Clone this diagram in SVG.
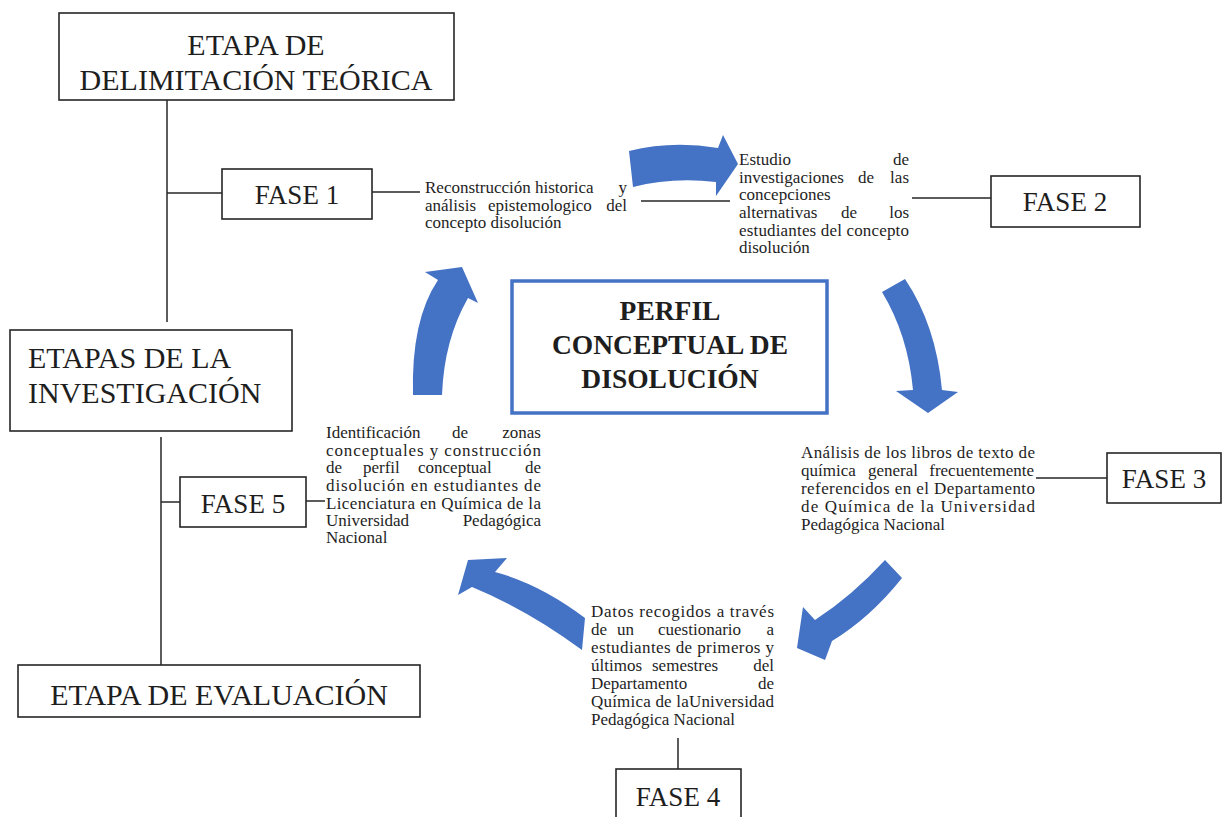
<svg xmlns="http://www.w3.org/2000/svg" width="1223" height="817" viewBox="0 0 1223 817">
<style>
.box{fill:#fff;stroke:#262626;stroke-width:1.6}
.big{font-family:"Liberation Serif","Times New Roman",serif;font-size:30px;fill:#1e1e1e}
.fase{font-family:"Liberation Serif","Times New Roman",serif;font-size:27px;fill:#1e1e1e;text-anchor:middle}
.t{font-family:"Liberation Serif","Times New Roman",serif;font-size:17px;fill:#1e1e1e}
.e{text-anchor:end}
.m{text-anchor:middle}
.title{font-family:"Liberation Serif","Times New Roman",serif;font-size:27.5px;font-weight:bold;fill:#1e1e1e;text-anchor:middle}
.ln{stroke:#262626;stroke-width:1.5;fill:none}
.arr{fill:#4472C4}
</style>
<rect width="1223" height="817" fill="#fff"/>

<g id="connectors">
<line class="ln" x1="167" y1="100" x2="167" y2="322"/>
<line class="ln" x1="167" y1="193" x2="222" y2="193"/>
<line class="ln" x1="372" y1="192" x2="420" y2="192"/>
<line class="ln" x1="641" y1="201" x2="730" y2="201"/>
<line class="ln" x1="912" y1="198" x2="991" y2="198"/>
<line class="ln" x1="1036" y1="478" x2="1107" y2="478"/>
<line class="ln" x1="678" y1="738" x2="678" y2="769"/>
<line class="ln" x1="161" y1="437" x2="161" y2="665"/>
<line class="ln" x1="161" y1="502" x2="180" y2="502"/>
<line class="ln" x1="306" y1="501" x2="325" y2="501"/>
<path class="arr" d="M629,151 Q672,140 718,148 L723,135 L738,164 L716,196 L716,182 Q672,177 633,187 Z"/>
<path class="arr" d="M882,292 L905,279 Q936,325 942,390 L958,392 L928,413 L896,391 L913,390 Q908,335 882,292 Z"/>
<path class="arr" d="M885,560 L902,578 Q870,618 832,641 L825,660 L797,648 L803,607 L815,620 Q852,596 885,560 Z"/>
<path class="arr" d="M585,618 Q540,584 495,572 L507,558 L468,560 L458,595 L472,587 Q528,610 582,650 Z"/>
<path class="arr" d="M413,395 Q411,320 438,280 L425,272 L462,267 L478,303 L468,298 Q444,340 442,395 Z"/>
</g>

<g id="etapa-delimitacion">
<rect class="box" x="59" y="13" width="395" height="87"/>
<text class="big m" x="256" y="55">ETAPA DE</text>
<text class="big m" x="256" y="90">DELIMITACIÓN TEÓRICA</text>
</g>

<g id="etapas-investigacion">
<rect class="box" x="10" y="330" width="282" height="101"/>
<text class="big" x="28" y="368">ETAPAS DE LA</text>
<text class="big" x="28" y="403">INVESTIGACIÓN</text>
</g>

<g id="etapa-evaluacion">
<rect class="box" x="18" y="665" width="402" height="52"/>
<text class="big m" x="219" y="705">ETAPA DE EVALUACIÓN</text>
</g>

<g id="perfil">
<rect x="512" y="281" width="315" height="132" fill="#fff" stroke="#4472C4" stroke-width="3.5"/>
<text class="title" x="670" y="320">PERFIL</text>
<text class="title" x="670" y="354">CONCEPTUAL DE</text>
<text class="title" x="670" y="388">DISOLUCIÓN</text>
</g>

<g id="fase1">
<rect class="box" x="222" y="169" width="150" height="50"/>
<text class="fase" x="297" y="204">FASE 1</text>
</g>
<g id="fase2">
<rect class="box" x="991" y="176" width="149" height="51"/>
<text class="fase" x="1065" y="211">FASE 2</text>
</g>
<g id="fase3">
<rect class="box" x="1107" y="453" width="114" height="50"/>
<text class="fase" x="1164" y="488">FASE 3</text>
</g>
<g id="fase4">
<rect class="box" x="616" y="769" width="125" height="60"/>
<text class="fase" x="678" y="806">FASE 4</text>
</g>
<g id="fase5">
<rect class="box" x="180" y="477" width="126" height="50"/>
<text class="fase" x="243" y="513">FASE 5</text>
</g>

<g id="texto1">
<text class="t" x="425" y="193">Reconstrucción historica</text>
<text class="t e" x="627" y="193">y</text>
<text class="t" x="425" y="211">análisis</text>
<text class="t" x="488" y="211">epistemologico</text>
<text class="t e" x="627" y="211">del</text>
<text class="t" x="425" y="228">concepto disolución</text>
</g>

<g id="texto2">
<text class="t" x="739" y="165">Estudio</text>
<text class="t e" x="909" y="165">de</text>
<text class="t" x="739" y="183">investigaciones</text>
<text class="t" x="858" y="183">de</text>
<text class="t e" x="909" y="183">las</text>
<text class="t" x="739" y="200">concepciones</text>
<text class="t" x="739" y="218">alternativas</text>
<text class="t m" x="849" y="218">de</text>
<text class="t e" x="909" y="218">los</text>
<text class="t" x="739" y="236" textLength="170" lengthAdjust="spacing">estudiantes del concepto</text>
<text class="t" x="739" y="253">disolución</text>
</g>

<g id="texto3">
<text class="t" x="801" y="458" textLength="234" lengthAdjust="spacing">Análisis de los libros de texto de</text>
<text class="t" x="801" y="476">química</text>
<text class="t" x="868" y="476">general</text>
<text class="t e" x="1034" y="476">frecuentemente</text>
<text class="t" x="801" y="494" textLength="234" lengthAdjust="spacing">referencidos en el Departamento</text>
<text class="t" x="801" y="512" textLength="234" lengthAdjust="spacing">de Química de la Universidad</text>
<text class="t" x="801" y="530">Pedagógica Nacional</text>
</g>

<g id="texto4">
<text class="t" x="591" y="617" textLength="183" lengthAdjust="spacing">Datos recogidos a través</text>
<text class="t" x="591" y="635">de</text>
<text class="t" x="617" y="635">un</text>
<text class="t" x="658" y="635">cuestionario</text>
<text class="t e" x="774" y="635">a</text>
<text class="t" x="591" y="653" textLength="183" lengthAdjust="spacing">estudiantes de primeros y</text>
<text class="t" x="591" y="671">últimos</text>
<text class="t" x="652" y="671">semestres</text>
<text class="t e" x="774" y="671">del</text>
<text class="t" x="591" y="689">Departamento</text>
<text class="t e" x="774" y="689">de</text>
<text class="t" x="591" y="707" textLength="183" lengthAdjust="spacing">Química de laUniversidad</text>
<text class="t" x="591" y="725">Pedagógica Nacional</text>
</g>

<g id="texto5">
<text class="t" x="326" y="438">Identificación</text>
<text class="t" x="452" y="438">de</text>
<text class="t e" x="541" y="438">zonas</text>
<text class="t" x="326" y="456" textLength="215" lengthAdjust="spacing">conceptuales y construcción</text>
<text class="t" x="326" y="473">de</text>
<text class="t" x="363" y="473">perfil</text>
<text class="t" x="418" y="473">conceptual</text>
<text class="t e" x="541" y="473">de</text>
<text class="t" x="326" y="491" textLength="215" lengthAdjust="spacing">disolución en estudiantes de</text>
<text class="t" x="326" y="509" textLength="215" lengthAdjust="spacing">Licenciatura en Química de la</text>
<text class="t" x="326" y="526">Universidad</text>
<text class="t e" x="541" y="526">Pedagógica</text>
<text class="t" x="326" y="543">Nacional</text>
</g>
</svg>
